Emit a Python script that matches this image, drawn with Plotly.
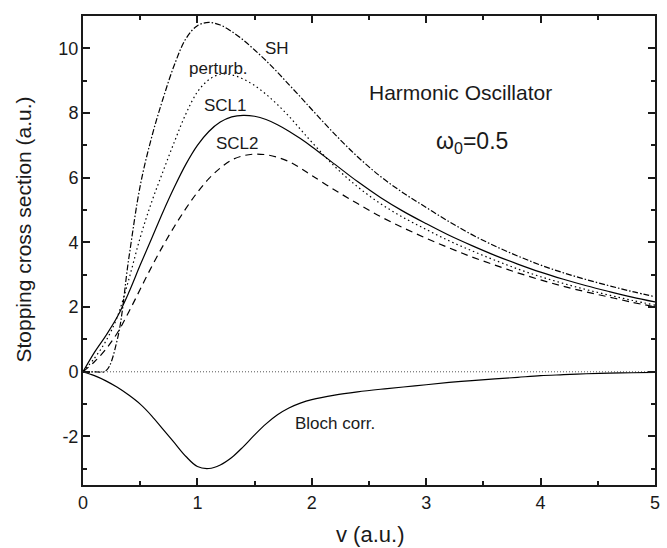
import plotly.graph_objects as go

# Projectile velocity grid (a.u.)
v = [0, 0.1, 0.2, 0.3, 0.4, 0.5, 0.6, 0.7, 0.8, 0.9, 1.0,
     1.1, 1.2, 1.3, 1.4, 1.5, 1.6, 1.7, 1.8, 1.9, 2.0,
     2.2, 2.4, 2.6, 2.8, 3.0, 3.2, 3.4, 3.6, 3.8, 4.0, 4.2, 4.4, 4.6, 4.8, 5.0]

# Stopping cross sections (a.u.)
sh = [0, 0, 0.03, 1.0, 3.5, 5.75, 7.25, 8.45, 9.5, 10.3, 10.7,
      10.8, 10.72, 10.52, 10.26, 9.95, 9.62, 9.26, 8.88, 8.5, 8.11,
      7.35, 6.65, 6.04, 5.53, 5.08, 4.64, 4.24, 3.89, 3.58, 3.3, 3.06, 2.85, 2.66, 2.48, 2.32]
perturb = [0, 0.42, 0.95, 1.7, 2.85, 4.15, 5.25, 6.2, 7.12, 7.98, 8.65,
           9.03, 9.2, 9.18, 9.05, 8.85, 8.58, 8.26, 7.9, 7.5, 7.1,
           6.35, 5.72, 5.2, 4.77, 4.4, 4.05, 3.74, 3.45, 3.18, 2.94, 2.73, 2.54, 2.37, 2.21, 2.06]
scl1 = [0, 0.6, 1.12, 1.7, 2.45, 3.3, 4.12, 4.95, 5.72, 6.42, 7.0,
        7.43, 7.72, 7.88, 7.93, 7.9, 7.8, 7.64, 7.44, 7.21, 6.96,
        6.42, 5.88, 5.39, 4.96, 4.58, 4.22, 3.9, 3.6, 3.33, 3.08, 2.86, 2.66, 2.48, 2.31, 2.16]
scl2 = [0, 0.31, 0.7, 1.2, 1.85, 2.55, 3.25, 3.9, 4.5, 5.05, 5.55,
        5.97, 6.3, 6.55, 6.68, 6.73, 6.71, 6.63, 6.5, 6.3, 6.07,
        5.62, 5.2, 4.8, 4.45, 4.13, 3.83, 3.55, 3.3, 3.06, 2.84, 2.64, 2.47, 2.31, 2.15, 2.01]
bloch = [0, -0.12, -0.28, -0.48, -0.72, -1.0, -1.36, -1.78, -2.2, -2.62, -2.93,
         -2.99, -2.88, -2.65, -2.32, -1.95, -1.61, -1.33, -1.12, -0.97, -0.86,
         -0.72, -0.62, -0.54, -0.47, -0.4, -0.33, -0.27, -0.22, -0.17, -0.12, -0.09, -0.06, -0.04, -0.03, -0.02]

# Zero reference line
zero_v = [0, 5]
zero_y = [0, 0]

# Tick labels
x_ticks = [0, 1, 2, 3, 4, 5]
x_ticktext = ["0", "1", "2", "3", "4", "5"]
y_ticks = [-2, 0, 2, 4, 6, 8, 10]
y_ticktext = ["-2", "0", "2", "4", "6", "8", "10"]

FONT = "Liberation Sans, Arial, Helvetica, sans-serif"
INK = "#1a1a1a"

fig = go.Figure()

fig.add_trace(go.Scatter(x=zero_v, y=zero_y, mode="lines",
                         line=dict(color="#555555", width=1, dash="1px,2px")))

curves = [
    (sh, "6px,2px,1.5px,2px"),
    (perturb, "1.5px,3px"),
    (scl1, "solid"),
    (scl2, "7px,5px"),
    (bloch, "solid"),
]
for yvals, dash in curves:
    fig.add_trace(go.Scatter(x=v, y=yvals, mode="lines",
                             line=dict(color="black", width=1.2, dash=dash,
                                       shape="spline", smoothing=1.0)))

axis_common = dict(
    showgrid=False, zeroline=False,
    showline=True, linecolor=INK, linewidth=2, mirror="ticks",
    ticks="inside", ticklen=7, tickwidth=1.5, tickcolor=INK,
    tickfont=dict(family=FONT, size=18, color=INK),
)

fig.update_xaxes(range=[0, 5], tickvals=x_ticks, ticktext=x_ticktext, ticklabelstandoff=0,
                 minor=dict(ticks="inside", ticklen=4, tickwidth=1.5, tickcolor=INK, dtick=0.5,
                            showgrid=False),
                 **axis_common)
fig.update_yaxes(range=[-3.5, 11], tickvals=y_ticks, ticktext=y_ticktext, ticklabelstandoff=-1,
                 minor=dict(ticks="inside", ticklen=4, tickwidth=1.5, tickcolor=INK, dtick=1,
                            showgrid=False),
                 **axis_common)

labels = [
    ("SH", 1.694, 9.98, 17),
    ("perturb.", 1.187, 9.39, 17),
    ("SCL1", 1.248, 8.23, 17),
    ("SCL2", 1.35, 7.06, 17),
    ("Bloch corr.", 2.205, -1.6, 17),
    ("Harmonic Oscillator", 3.297, 8.63, 21),
]
annotations = [dict(x=x, y=y, xref="x", yref="y", text=t, showarrow=False,
                    xanchor="center", yanchor="middle",
                    font=dict(family=FONT, size=s, color=INK))
               for t, x, y, s in labels]
annotations.append(dict(x=3.40, y=7.08, xref="x", yref="y", text="ω<sub>0</sub>=0.5",
                        showarrow=False, xanchor="center", yanchor="middle",
                        font=dict(family=FONT, size=23, color=INK)))
annotations.append(dict(x=-0.1057, y=0.5437, xref="paper", yref="paper",
                        text="Stopping cross section (a.u.)", textangle=-90,
                        showarrow=False, xanchor="center", yanchor="middle",
                        font=dict(family=FONT, size=21, color=INK)))
annotations.append(dict(x=0.5009, y=-0.1066, xref="paper", yref="paper",
                        text="v (a.u.)", showarrow=False,
                        xanchor="center", yanchor="middle",
                        font=dict(family=FONT, size=22, color=INK)))

fig.update_layout(
    width=667, height=548,
    margin=dict(l=83, r=7, t=16, b=63),
    paper_bgcolor="white", plot_bgcolor="white",
    showlegend=False,
    annotations=annotations,
)

fig.write_html("out.html")
